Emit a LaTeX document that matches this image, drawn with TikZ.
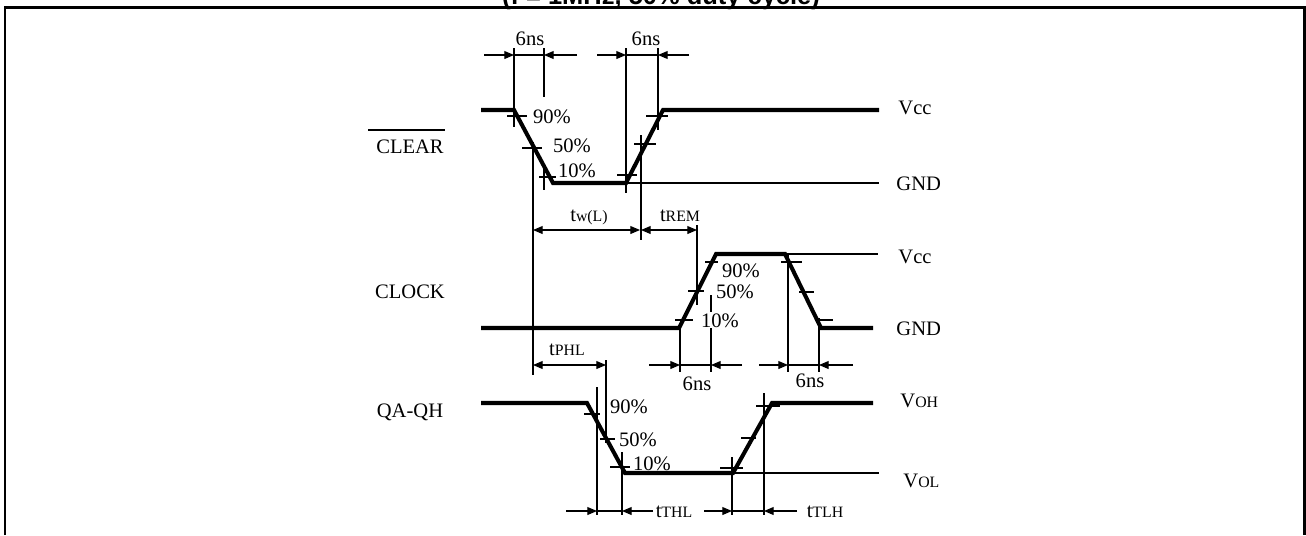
\documentclass[tikz,border=0pt]{standalone}
\usepackage{fontspec}
\setmainfont{Liberation Serif}
\newfontfamily\headfont{Liberation Sans}
\usetikzlibrary{arrows.meta}
\newcommand{\sm}[1]{{\fontsize{9}{10}\selectfont #1}}

\begin{document}
\begin{tikzpicture}[x=0.02cm,y=-0.02cm,
    wave/.style={line width=2.3pt},
    thin/.style={line width=0.6pt},
    dimarr/.style={thin,-{Triangle[length=5.5pt,width=4.5pt]}},
    dimboth/.style={thin,{Triangle[length=5.5pt,width=4.5pt]}-{Triangle[length=5.5pt,width=4.5pt]}},
    lbl/.style={font=\fontsize{11.7}{13}\selectfont,inner sep=0.6pt,fill=white,anchor=base},
    rlbl/.style={lbl,anchor=base west}]
  \useasboundingbox (0,0) rectangle (1306,535);
  \clip (0,0) rectangle (1306,535);

  % heading, cut off by the top edge
  \node[font=\headfont\bfseries\fontsize{14.5}{16}\selectfont,anchor=base,inner sep=0] (title) at (661,4.5) {(f = 1MHz, 50\% duty cycle)};
  \draw[line width=1.7pt] (5,535) -- (5,7.5) -- (1304,7.5) -- (1304,535);

  % waveform corners
  \coordinate (c0) at (481,110);
  \coordinate (c1) at (514,110);
  \coordinate (c2) at (553,183);
  \coordinate (c3) at (626,183);
  \coordinate (c4) at (663,110);
  \coordinate (c5) at (879,110);
  \coordinate (k0) at (481,328);
  \coordinate (k1) at (679,328);
  \coordinate (k2) at (716,254);
  \coordinate (k3) at (785,254);
  \coordinate (k4) at (821,328);
  \coordinate (k5) at (873,328);
  \coordinate (q0) at (481,403);
  \coordinate (q1) at (587,403);
  \coordinate (q2) at (625,473);
  \coordinate (q3) at (733,473);
  \coordinate (q4) at (772,403);
  \coordinate (q5) at (873,403);

  % reference levels
  \draw[thin] (c3) -- (879,183);
  \draw[thin] (k3) -- (878,254);
  \draw[thin] (q3) -- (879,473);

  % 10/50/90 % marks
  \foreach \xa/\xb/\yy in {507/527/116, 522/542/148, 539/556/177,
      617/637/175, 634/656/144, 646/668/116,
      675/693/320, 688/704/291, 705/718/262,
      781/802/262, 799/814/292, 818/833/320,
      584/600/414, 600/615/439, 610/630/467,
      720/743/468, 741/756/438, 756/780/406}
    \draw[thin] (\xa,\yy) -- (\xb,\yy);

  % extension lines
  \foreach \xx/\ya/\yb in {514/48/127, 544/48/97, 544/165/190, 533/142/375,
      626/48/193, 641/135/240, 658/48/130,
      697/225/305, 680/327/372, 711/295/372, 788/254/372, 819/318/372,
      606/360/443, 597/387/515, 622/452/515, 732/457/515, 764/393/515}
    \draw[thin] (\xx,\ya) -- (\xx,\yb);

  % dimensions
  \foreach \xo/\xi/\yy in {484/514/55, 577/544/55, 597/626/55, 689/658/55,
      649/680/365, 742/711/365, 759/788/365, 853/819/365,
      566/597/511, 653/622/511, 704/732/511, 797/764/511}
    \draw[dimarr] (\xo,\yy) -- (\xi,\yy);
  \foreach \xa/\xb/\yy in {514/544/55, 626/658/55, 680/711/365, 788/819/365,
      597/622/511, 732/764/511}
    \draw[thin] (\xa,\yy) -- (\xb,\yy);
  \draw[dimboth] (533,230) -- (640,230);
  \draw[dimboth] (641,230) -- (697,230);
  \draw[dimboth] (533,365) -- (606,365);

  % signal names
  \node[lbl] (clr) at (410,153) {CLEAR};
  \draw[thin] (368,130) -- (445,130);
  \node[lbl] (clk) at (410,298) {CLOCK};
  \node[lbl] (qout) at (410,417) {QA-QH};

  % levels
  \node[rlbl] (vcc1) at (897,114) {Vcc};
  \node[rlbl] (gnd1) at (895,190) {GND};
  \node[rlbl] (vcc2) at (897,263) {Vcc};
  \node[rlbl] (gnd2) at (895,335) {GND};
  \node[rlbl] (voh) at (899,407) {V\sm{OH}};
  \node[rlbl] (vol) at (902,487) {V\sm{OL}};

  % times and percentages
  \node[lbl] (tfa) at (530,45) {6ns};
  \node[lbl] (tra) at (646,45) {6ns};
  \node[lbl] (clr90) at (552,123) {90\%};
  \node[lbl] (clr50) at (572,152) {50\%};
  \node[lbl] (clr10) at (577,177) {10\%};
  \node[lbl] (twl) at (589,221) {t\sm{w(L)}};
  \node[lbl] (trem) at (680,221) {t\sm{REM}};
  \node[lbl] (clk90) at (741,277) {90\%};
  \node[lbl] (clk50) at (735,298) {50\%};
  \node[lbl] (clk10) at (720,327) {10\%};
  \node[lbl] (trb) at (697,390) {6ns};
  \node[lbl] (tfb) at (810,387) {6ns};
  \node[lbl] (tphl) at (567,355) {t\sm{PHL}};
  \node[lbl] (qa90) at (629,413) {90\%};
  \node[lbl] (qa50) at (638,446) {50\%};
  \node[lbl] (qa10) at (652,470) {10\%};
  \node[lbl] (tthl) at (674,517) {t\sm{THL}};
  \node[lbl] (ttlh) at (825,517) {t\sm{TLH}};

  % waveforms
  \draw[wave] (c0) -- (c1) -- (c2) -- (c3) -- (c4) -- (c5);
  \draw[wave] (k0) -- (k1) -- (k2) -- (k3) -- (k4) -- (k5);
  \draw[wave] (q0) -- (q1) -- (q2) -- (q3) -- (q4) -- (q5);
\end{tikzpicture}
\end{document}
